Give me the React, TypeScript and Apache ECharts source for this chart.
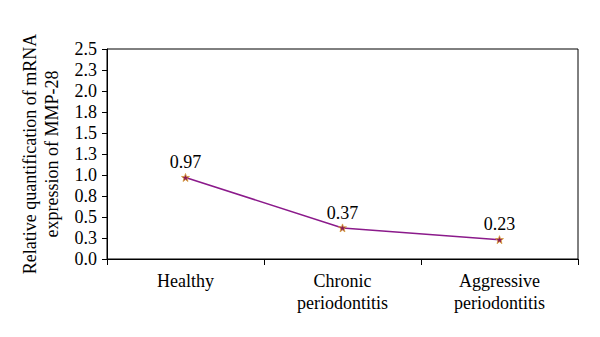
import React, { useEffect, useRef } from "react";
import * as echarts from "echarts";

const categories = ["Healthy", "Chronic\nperiodontitis", "Aggressive\nperiodontitis"];
const values = [0.97, 0.37, 0.23];
const yTickLabels = ["0.0", "0.3", "0.5", "0.8", "1.0", "1.3", "1.5", "1.8", "2.0", "2.3", "2.5"];
const yAxisTitle = "Relative quantification of mRNA\nexpression of MMP-28";

const FONT = "'Liberation Serif'";

export default function App() {
  const ref = useRef<HTMLDivElement>(null);
  useEffect(() => {
    if (!ref.current) return;
    const chart = echarts.init(ref.current, undefined, { renderer: "svg" });
    chart.setOption({
      animation: false,
      backgroundColor: "#ffffff",
      textStyle: { fontFamily: FONT },
      grid: {
        left: 107,
        right: 22,
        top: 49,
        bottom: 78,
        show: true,
        borderColor: "#000",
        borderWidth: 1,
      },
      xAxis: {
        type: "category",
        data: categories,
        boundaryGap: true,
        axisLine: { lineStyle: { color: "#000", width: 1 } },
        axisTick: { show: true, length: 6, lineStyle: { color: "#000" } },
        axisLabel: {
          color: "#000",
          fontFamily: FONT,
          fontSize: 18,
          lineHeight: 22,
          margin: 11,
          interval: 0,
        },
      },
      yAxis: {
        type: "value",
        min: 0,
        max: 2.5,
        interval: 0.25,
        splitLine: { show: false },
        axisLine: { show: true, lineStyle: { color: "#000", width: 1 } },
        axisTick: { show: true, length: 5, lineStyle: { color: "#000" } },
        axisLabel: {
          color: "#000",
          fontFamily: FONT,
          fontSize: 18,
          margin: 10,
          formatter: (v: number) => yTickLabels[Math.round(v / 0.25)] ?? "",
        },
        name: yAxisTitle,
        nameLocation: "middle",
        nameGap: 44,
        nameRotate: 90,
        nameTextStyle: {
          color: "#000",
          fontFamily: FONT,
          fontSize: 18,
          lineHeight: 22,
        },
      },
      series: [
        {
          type: "line",
          data: values,
          symbol: "path://M5,0 L6.2,3.3 L10,3.3 L7,5.5 L8.1,9 L5,6.9 L1.9,9 L3,5.5 L0,3.3 L3.8,3.3 Z",
          symbolSize: 8,
          itemStyle: { color: "#8b1a55", borderColor: "#d9a13a", borderWidth: 0.8 },
          lineStyle: { color: "#8b1a8b", width: 1.5 },
          label: {
            show: true,
            position: "top",
            distance: 2,
            color: "#000",
            fontFamily: FONT,
            fontSize: 18,
            formatter: (p: any) => p.value.toFixed(2),
          },
        },
      ],
    });
    return () => chart.dispose();
  }, []);
  return <div ref={ref} style={{ width: 600, height: 337, margin: -8 }} />;
}
